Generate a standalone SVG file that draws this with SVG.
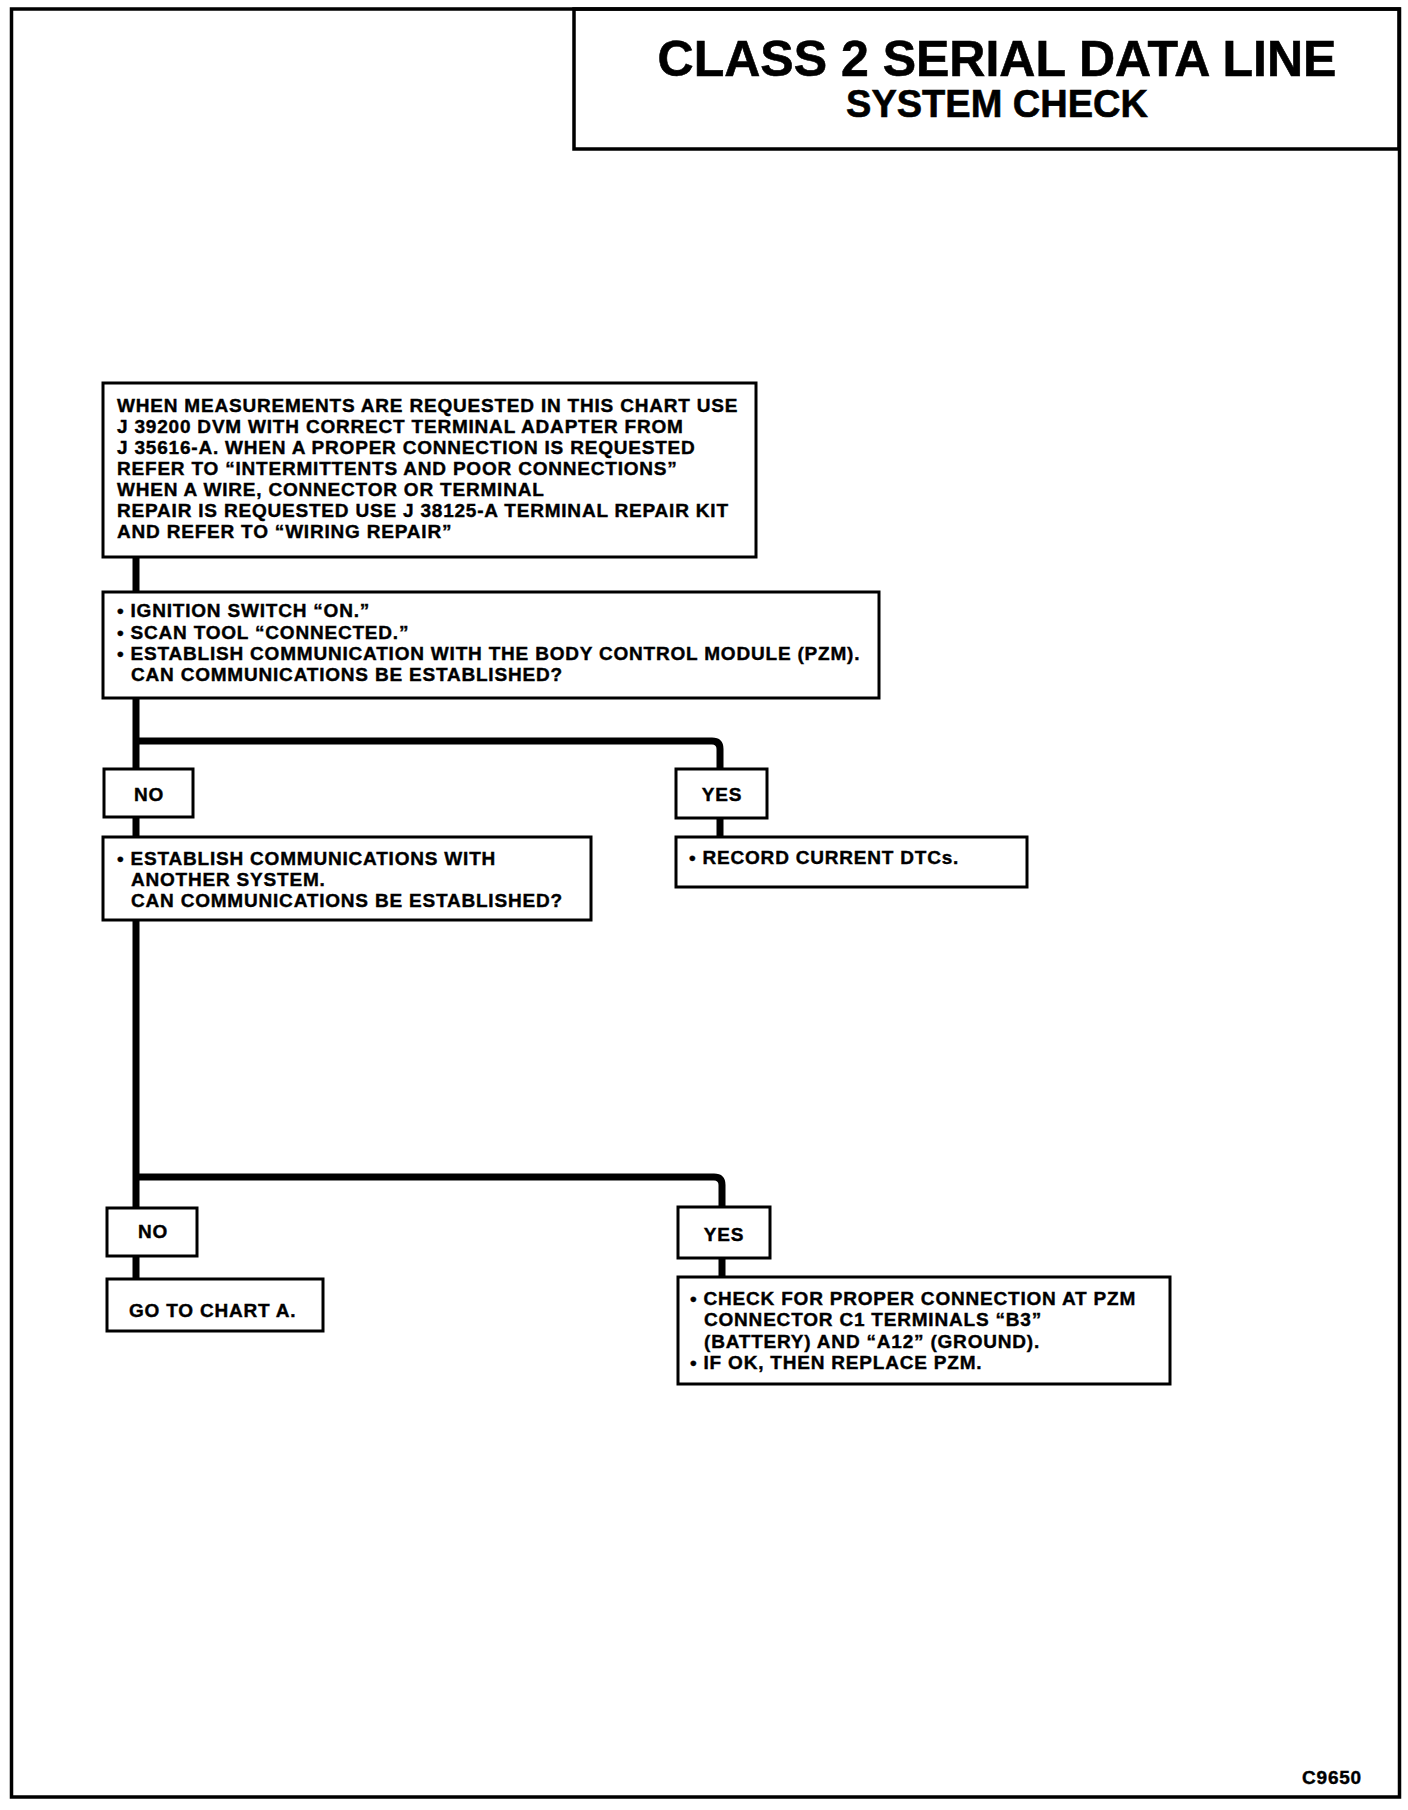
<svg xmlns="http://www.w3.org/2000/svg" width="1408" height="1810" viewBox="0 0 1408 1810">
<style>
.frame{fill:none;stroke:#000;stroke-width:3.5}
.box{fill:#fff;stroke:#000;stroke-width:3}
.con{fill:none;stroke:#000;stroke-width:7;stroke-linejoin:round}
.t{font-family:"Liberation Sans",Arial,sans-serif;font-weight:bold;font-size:19px;letter-spacing:0.8px;fill:#000;stroke:#000;stroke-width:0.4}
.c{text-anchor:middle}
.title{font-family:"Liberation Sans",Arial,sans-serif;font-weight:bold;fill:#000;text-anchor:middle;stroke:#000;stroke-width:0.6}
</style>
<rect width="1408" height="1810" fill="#fff"/>
<rect class="frame" x="11.5" y="9" width="1388" height="1788"/>
<g id="title">
<rect class="frame" x="574" y="9" width="825" height="140"/>
<text class="title" x="997" y="76" font-size="50">CLASS 2 SERIAL DATA LINE</text>
<text class="title" x="997" y="117" font-size="38">SYSTEM CHECK</text>
</g>
<g id="connectors">
<path class="con" d="M136 557V592"/>
<path class="con" d="M136 698V769M136 741H712Q720 741 720 749V769"/>
<path class="con" d="M136 817V837M720 818V837"/>
<path class="con" d="M136 920V1208M136 1177H714Q722 1177 722 1185V1207"/>
<path class="con" d="M136 1256V1279M722 1258V1277"/>
</g>
<g id="n1">
<rect class="box" x="103" y="383" width="653" height="174"/>
<text class="t" x="117" y="412">WHEN MEASUREMENTS ARE REQUESTED IN THIS CHART USE</text>
<text class="t" x="117" y="433">J 39200 DVM WITH CORRECT TERMINAL ADAPTER FROM</text>
<text class="t" x="117" y="454">J 35616-A. WHEN A PROPER CONNECTION IS REQUESTED</text>
<text class="t" x="117" y="475">REFER TO “INTERMITTENTS AND POOR CONNECTIONS”</text>
<text class="t" x="117" y="496">WHEN A WIRE, CONNECTOR OR TERMINAL</text>
<text class="t" x="117" y="517">REPAIR IS REQUESTED USE J 38125-A TERMINAL REPAIR KIT</text>
<text class="t" x="117" y="538">AND REFER TO “WIRING REPAIR”</text>
</g>
<g id="n2">
<rect class="box" x="103" y="592" width="776" height="106"/>
<text class="t" x="117" y="617">• IGNITION SWITCH “ON.”</text>
<text class="t" x="117" y="639">• SCAN TOOL “CONNECTED.”</text>
<text class="t" x="117" y="660">• ESTABLISH COMMUNICATION WITH THE BODY CONTROL MODULE (PZM).</text>
<text class="t" x="131" y="681">CAN COMMUNICATIONS BE ESTABLISHED?</text>
</g>
<g id="no1">
<rect class="box" x="104" y="769" width="89" height="48"/>
<text class="t c" x="149" y="801">NO</text>
</g>
<g id="yes1">
<rect class="box" x="676" y="769" width="91" height="49"/>
<text class="t c" x="722" y="801">YES</text>
</g>
<g id="n3">
<rect class="box" x="103" y="837" width="488" height="83"/>
<text class="t" x="117" y="865">• ESTABLISH COMMUNICATIONS WITH</text>
<text class="t" x="131" y="886">ANOTHER SYSTEM.</text>
<text class="t" x="131" y="907">CAN COMMUNICATIONS BE ESTABLISHED?</text>
</g>
<g id="n4">
<rect class="box" x="676" y="837" width="351" height="50"/>
<text class="t" x="689" y="864">• RECORD CURRENT DTCs.</text>
</g>
<g id="no2">
<rect class="box" x="107" y="1208" width="90" height="48"/>
<text class="t c" x="153" y="1238">NO</text>
</g>
<g id="yes2">
<rect class="box" x="678" y="1207" width="92" height="51"/>
<text class="t c" x="724" y="1241">YES</text>
</g>
<g id="n5">
<rect class="box" x="107" y="1279" width="216" height="52"/>
<text class="t" x="129" y="1317">GO TO CHART A.</text>
</g>
<g id="n6">
<rect class="box" x="678" y="1277" width="492" height="107"/>
<text class="t" x="690" y="1305">• CHECK FOR PROPER CONNECTION AT PZM</text>
<text class="t" x="704" y="1326">CONNECTOR C1 TERMINALS “B3”</text>
<text class="t" x="704" y="1348">(BATTERY) AND “A12” (GROUND).</text>
<text class="t" x="690" y="1369">• IF OK, THEN REPLACE PZM.</text>
</g>
<text class="t" x="1362" y="1784" text-anchor="end" letter-spacing="0.3">C9650</text>
</svg>
